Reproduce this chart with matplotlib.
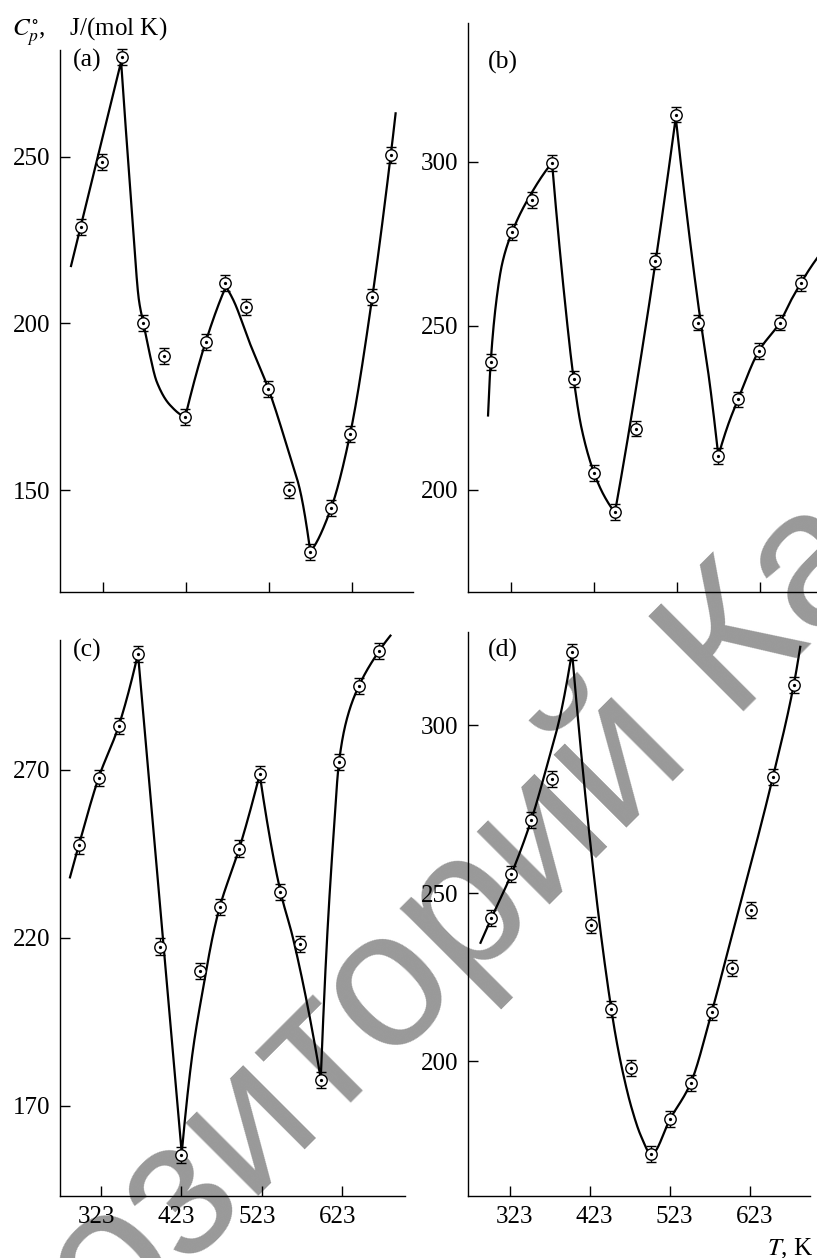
import numpy as np
import matplotlib
matplotlib.use("Agg")
import matplotlib.pyplot as plt
from matplotlib.transforms import ScaledTranslation
from matplotlib.textpath import TextToPath
from matplotlib.font_manager import FontProperties

plt.rcParams['font.family'] = ['Liberation Serif', 'DejaVu Serif']
plt.rcParams['mathtext.fontset'] = 'stix'

# ---------------- data ----------------
T_a = [295.7, 321.8, 345.2, 371.3, 396.7, 422.0, 446.7, 470.0, 495.3, 522.3, 546.9, 573.0, 598.0, 621.0, 647.9, 670.1]
Cp_a = [229.0, 248.5, 279.8, 200.2, 190.2, 171.8, 194.5, 212.2, 205.0, 180.4, 150.0, 131.3, 144.5, 166.7, 208.0, 250.4]

T_b = [298.1, 323.8, 348.4, 372.2, 398.4, 422.9, 448.2, 474.0, 496.6, 521.6, 548.5, 573.0, 596.8, 621.8, 647.2, 672.5]
Cp_b = [238.9, 278.5, 288.3, 299.7, 233.7, 205.2, 193.2, 218.7, 269.8, 314.4, 251.0, 210.4, 227.6, 242.3, 251.0, 263.0]

T_c = [295.3, 320.1, 345.0, 369.0, 396.8, 422.5, 446.5, 470.6, 495.0, 520.4, 546.0, 570.9, 596.3, 619.0, 643.5, 668.8]
Cp_c = [247.5, 267.7, 283.1, 304.6, 217.4, 155.2, 210.2, 229.1, 246.6, 268.7, 233.6, 218.1, 177.7, 272.3, 294.9, 305.4]

T_d = [300.1, 325.0, 349.9, 375.7, 400.7, 424.7, 449.7, 474.6, 499.6, 523.2, 548.7, 574.9, 600.2, 624.2, 651.3, 677.1]
Cp_d = [242.6, 255.7, 271.8, 283.9, 321.8, 240.6, 215.5, 198.0, 172.4, 183.0, 193.6, 214.7, 227.9, 245.0, 284.7, 311.9]

Cp_err = 2.4

# fitted curves: knots of each smooth piece (pieces meet at the sharp corners)
fit_a = [
    [(284.0, 217.2), (344.5, 278.5)],
    [(344.5, 278.5), (358.0, 232.0), (366.0, 207.0), (371.3, 200.2), (378.0, 192.0),
     (387.5, 182.5), (403.5, 175.5), (422.0, 172.0)],
    [(422.0, 172.0), (446.7, 194.5), (471.0, 211.0)],
    [(471.0, 211.0), (480.0, 207.0), (500.0, 194.0), (522.3, 180.4), (548.6, 160.0),
     (560.5, 150.0), (573.0, 131.5)],
    [(573.0, 131.5), (598.0, 144.5), (621.0, 166.7), (647.9, 208.0), (670.1, 250.4), (676.0, 263.0)],
]
fit_b = [
    [(294.9, 222.7), (298.1, 238.9), (305.0, 257.8), (312.0, 269.0), (323.8, 278.5),
     (347.2, 290.4), (372.2, 299.7)],
    [(372.2, 299.7), (387.5, 258.0), (398.4, 233.7), (407.5, 219.2), (422.9, 205.2),
     (435.8, 197.9), (448.2, 193.2)],
    [(448.2, 193.2), (490.2, 257.8), (521.6, 313.5)],
    [(521.6, 313.5), (548.0, 257.9), (562.6, 232.5), (573.0, 210.4)],
    [(573.0, 210.4), (585.0, 220.0), (596.8, 227.6), (621.8, 242.3), (647.2, 251.0),
     (661.0, 257.9), (692.5, 270.7)],
]
fit_c = [
    [(284.4, 238.0), (295.3, 247.5), (320.1, 267.7), (345.0, 283.1), (369.0, 304.6)],
    [(369.0, 304.6), (423.4, 155.9)],
    [(423.4, 155.9), (437.0, 186.0), (450.0, 205.0), (462.7, 221.3), (470.6, 229.1),
     (495.0, 246.6), (520.4, 268.7)],
    [(520.4, 268.7), (546.0, 234.0), (562.2, 219.5), (596.3, 178.0)],
    [(596.3, 178.0), (604.0, 219.0), (612.0, 250.0), (619.0, 272.3), (628.6, 285.0),
     (643.5, 294.9), (668.8, 305.4), (683.0, 310.0)],
]
fit_d = [
    [(286.6, 235.3), (300.1, 242.6), (325.0, 255.7), (349.9, 271.8), (369.1, 287.6),
     (385.7, 302.5), (400.7, 321.8)],
    [(400.7, 321.8), (431.5, 248.0), (449.7, 215.5), (456.0, 206.4), (464.3, 196.5),
     (474.6, 186.5), (487.1, 177.6), (499.6, 172.4), (523.2, 183.0), (548.7, 193.6),
     (574.9, 214.7), (598.6, 236.1), (651.3, 284.7), (677.1, 311.9), (685.3, 323.3)],
]

x_ticks = [323, 423, 523, 623]
y_ticks_a = [150, 200, 250]
y_ticks_b = [200, 250, 300]
y_ticks_c = [170, 220, 270]
y_ticks_d = [200, 250, 300]
panel_labels = ["(a)", "(b)", "(c)", "(d)"]
y_label = r"$C^{\circ}_{p}$,    J/(mol K)"
x_label = r"$T$, K"
watermark = "Репозиторий КазНУ"

# ---------------- helpers ----------------
def _end_slope(h0, h1, d0, d1):
    m = ((2 * h0 + h1) * d0 - h0 * d1) / (h0 + h1)
    if np.sign(m) != np.sign(d0):
        m = 0.0
    elif np.sign(d0) != np.sign(d1) and abs(m) > abs(3 * d0):
        m = 3 * d0
    return m


def smooth_piece(knots, n=80):
    xk = np.array([k[0] for k in knots], float)
    yk = np.array([k[1] for k in knots], float)
    if len(xk) == 2:
        return xk, yk
    h = np.diff(xk)
    d = np.diff(yk) / h
    m = np.zeros_like(xk)
    for k in range(1, len(xk) - 1):
        if d[k - 1] * d[k] > 0:
            w1 = 2 * h[k] + h[k - 1]
            w2 = h[k] + 2 * h[k - 1]
            m[k] = (w1 + w2) / (w1 / d[k - 1] + w2 / d[k])
    m[0] = _end_slope(h[0], h[1], d[0], d[1])
    m[-1] = _end_slope(h[-1], h[-2], d[-1], d[-2])
    xs, ys = [], []
    t = np.linspace(0, 1, n)
    for k in range(len(h)):
        h00 = 2 * t**3 - 3 * t**2 + 1
        h10 = t**3 - 2 * t**2 + t
        h01 = -2 * t**3 + 3 * t**2
        h11 = t**3 - t**2
        xs.append(xk[k] + t * h[k])
        ys.append(h00 * yk[k] + h10 * h[k] * m[k] + h01 * yk[k + 1] + h11 * h[k] * m[k + 1])
    return np.concatenate(xs), np.concatenate(ys)


def curve_from(pieces):
    xs, ys = [], []
    for p in pieces:
        x, y = smooth_piece(p)
        xs.append(x)
        ys.append(y)
    return np.concatenate(xs), np.concatenate(ys)


W, H, DPI = 817, 1258, 100
fig = plt.figure(figsize=(W / DPI, H / DPI), dpi=DPI)
fig.patch.set_facecolor('white')


def make_axes(left, right, top, bottom):
    return fig.add_axes([left / W, 1 - bottom / H, (right - left) / W, (bottom - top) / H])


def draw_panel(ax, T, Cp, fit, xlim, ylim, yticks, label, label_xy, show_xlabels, xlab_dx):
    ax.set_facecolor('none')
    ax.set_xlim(*xlim)
    ax.set_ylim(*ylim)
    for s in ['top', 'right']:
        ax.spines[s].set_visible(False)
    for s in ['left', 'bottom']:
        ax.spines[s].set_linewidth(1.0)
    ax.set_xticks(x_ticks)
    ax.set_yticks(yticks)
    ax.tick_params(direction='in', length=7, width=1.0, labelsize=18, pad=7,
                   labelbottom=show_xlabels)
    if show_xlabels:
        for tk in ax.xaxis.get_major_ticks():
            tk.label1.set_transform(tk.label1.get_transform() +
                                    ScaledTranslation(xlab_dx / DPI, 0, fig.dpi_scale_trans))
    cx, cy = curve_from(fit)
    ax.plot(cx, cy, color='black', lw=1.6, zorder=2, clip_on=False, solid_joinstyle='round')
    eb = ax.errorbar(T, Cp, yerr=Cp_err, fmt='none', ecolor='black', elinewidth=1.0,
                     capsize=3.8, capthick=1.0, zorder=3)
    for a in eb.get_children():
        a.set_clip_on(False)
    ax.plot(T, Cp, 'o', ms=8.2, mfc='white', mec='black', mew=1.0, zorder=4, clip_on=False)
    ax.plot(T, Cp, '.', ms=2.6, color='black', zorder=5, clip_on=False)
    fig.text(label_xy[0] / W, 1 - label_xy[1] / H, label, fontsize=18.5,
             ha='left', va='baseline')


ax_a = make_axes(60, 413, 50, 591.7)
draw_panel(ax_a, T_a, Cp_a, fit_a, (270.7, 697.0), (119.5, 282.0), y_ticks_a,
           panel_labels[0], (72.5, 66.5), False, 0)

ax_b = make_axes(468, 821, 23.3, 591.7)
draw_panel(ax_b, T_b, Cp_b, fit_b, (270.7, 697.0), (169.0, 342.2), y_ticks_b,
           panel_labels[1], (488, 68.5), False, 0)

ax_c = make_axes(60, 405, 640, 1196)
draw_panel(ax_c, T_c, Cp_c, fit_c, (272.0, 701.1), (143.1, 308.7), y_ticks_c,
           panel_labels[2], (72.5, 656.5), True, -5)

ax_d = make_axes(468, 810.3, 631.7, 1196)
draw_panel(ax_d, T_d, Cp_d, fit_d, (271.0, 697.8), (160.0, 327.8), y_ticks_d,
           panel_labels[3], (488, 657), True, 4.5)

fig.text(12 / W, 1 - 36.5 / H, y_label, fontsize=18, ha='left', va='baseline')
fig.text(813 / W, 1 - 1255 / H, x_label, fontsize=18, ha='right', va='baseline')

# ---------------- watermark (behind everything) ----------------
wm_size = 140.0
theta = np.deg2rad(45.0)
fp = FontProperties(family='Liberation Sans', size=wm_size)
ttp = TextToPath()
w_pre = ttp.get_text_width_height_descent("Репозит", fp, ismath=False)[0] * DPI / 72
w_o = ttp.get_text_width_height_descent("о", fp, ismath=False)[0] * DPI / 72
em = wm_size * DPI / 72
cx, cy = 391.7, H - 991.7          # centre of the "о" after "т" (display coords)
u = np.array([np.cos(theta), np.sin(theta)])
nvec = np.array([-np.sin(theta), np.cos(theta)])
B = np.array([cx, cy]) - 0.26 * em * nvec
A = B - (w_pre + w_o / 2) * u
fig.text(A[0] / W, A[1] / H, watermark, rotation=45, rotation_mode='anchor',
         ha='left', va='baseline', fontsize=wm_size, family='Liberation Sans',
         color='#999999', zorder=-1)

fig.savefig('out.png', dpi=DPI)
